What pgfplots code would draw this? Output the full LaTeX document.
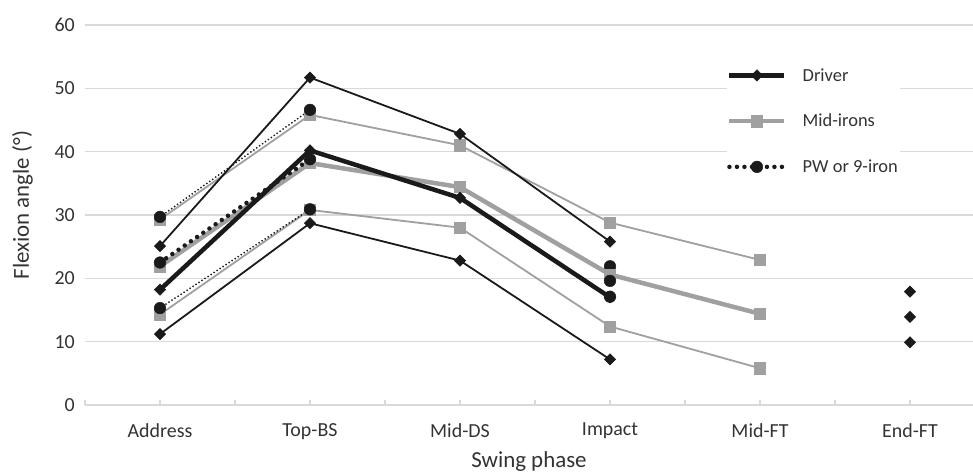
\documentclass[border=0pt]{standalone}
\usepackage{pgfplots}
\pgfplotsset{compat=1.18}
\usepackage{fontspec}
\setmainfont{Carlito}

\definecolor{blk}{HTML}{1A1A1A}
\definecolor{gry}{HTML}{A0A0A0}
\definecolor{gridc}{HTML}{D9D9D9}
\definecolor{txt}{HTML}{333333}

\pgfplotsset{
    sd/.style={line width=1.8bp},
    mean/.style={line width=4.5bp},
    drv/.style={blk, mark=square*, mark size=4bp, mark options={solid, rotate=45, fill=blk, draw=blk, line width=0.5bp}},
    mid/.style={gry, mark=square*, mark size=5.6bp, mark options={solid, fill=gry, draw=gry, line width=0.5bp}},
    pw/.style={blk, mark=*, mark size=5.8bp, mark options={solid, fill=blk, draw=blk, line width=0.5bp}},
    pwsd/.style={line width=2bp, line cap=round, dash pattern=on 0pt off 3.6bp},
    pwmean/.style={line width=4.5bp, line cap=round, dash pattern=on 0pt off 7.5bp},
}

\begin{document}
\begin{tikzpicture}
\begin{axis}[
    at={(0,0)}, anchor=south west,
    scale only axis,
    width=888bp, height=380bp,
    xmin=-0.5, xmax=5.42,
    ymin=0, ymax=60,
    unbounded coords=jump,
    axis x line*=bottom,
    axis y line*=left,
    y axis line style={draw=none},
    x axis line style={gridc, line width=1.8bp},
    xtick={0,...,5},
    xticklabels={Address,Top-BS,Mid-DS,Impact,Mid-FT,End-FT},
    minor xtick={-0.5,0.5,1.5,2.5,3.5,4.5},
    tick align=inside,
    major tick length=5bp, minor tick length=5bp,
    xtick style={gridc, line width=1.3bp},
    ytick={0,10,...,60},
    ytick style={draw=none},
    ymajorgrids,
    grid style={gridc, line width=1.3bp},
    tick label style={txt, font=\fontsize{20}{24}\selectfont},
    xticklabel style={inner sep=0pt, yshift=-18bp},
    yticklabel style={inner sep=0pt, xshift=-10bp, /pgf/number format/assume math mode=true},
    xlabel={Swing phase},
    ylabel={Flexion angle (°)},
    label style={txt, font=\fontsize{23}{27}\selectfont},
    xlabel style={at={(axis description cs:0.5,-0.121)}, anchor=north, inner sep=0pt},
    ylabel style={at={(axis description cs:-0.0586,0.526)}, anchor=south, inner sep=0pt},
    legend image code/.code={\draw[mark repeat=2,mark phase=2] plot coordinates {(0bp,0bp)(27.5bp,0bp)(55bp,0bp)};},
    legend cell align=left,
    legend style={at={(axis cs:3.78,53.5)}, anchor=north west, fill=white, draw=none,
        text=txt, font=\fontsize{18.5}{22}\selectfont,
        inner sep=0pt, row sep=27.5bp,
        /tikz/every odd column/.append style={column sep=14bp}},
]
% Mid-irons: mean +/- SD
\addplot[mid, sd, forget plot] coordinates {(0,29.3)(1,45.8)(2,41.0)(3,28.8)(4,22.9)};
\addplot[mid, sd, forget plot] coordinates {(0,14.3)(1,30.8)(2,28.0)(3,12.4)(4,5.8)};
% PW or 9-iron: mean +/- SD
\addplot[pw, pwsd, forget plot] coordinates {(0,29.7)(1,46.6)(2,nan)(3,21.9)};
\addplot[pw, pwsd, forget plot] coordinates {(0,15.3)(1,30.9)(2,nan)(3,17.1)};
% Driver: mean +/- SD
\addplot[drv, sd, forget plot] coordinates {(0,25.1)(1,51.7)(2,42.8)(3,25.8)(4,nan)(5,17.9)};
\addplot[drv, sd, forget plot] coordinates {(0,11.2)(1,28.7)(2,22.8)(3,7.2)(4,nan)(5,9.9)};
% means
\addplot[mid, mean, forget plot] coordinates {(0,21.9)(1,38.2)(2,34.4)(3,20.6)(4,14.4)};
\addplot[drv, mean, forget plot] coordinates {(0,18.2)(1,40.2)(2,32.7)(3,17.0)(4,nan)(5,13.9)};
\addplot[pw, pwmean, forget plot] coordinates {(0,22.5)(1,38.8)(2,nan)(3,19.6)};
% legend entries
\addlegendimage{drv, mean}
\addlegendentry{Driver}
\addlegendimage{mid, mean}
\addlegendentry{Mid-irons}
\addlegendimage{pw, pwmean}
\addlegendentry{PW or 9-iron}
\end{axis}
\pgfresetboundingbox
\path[use as bounding box] (-85bp,-67bp) rectangle (888bp,405bp);
\end{tikzpicture}
\end{document}
